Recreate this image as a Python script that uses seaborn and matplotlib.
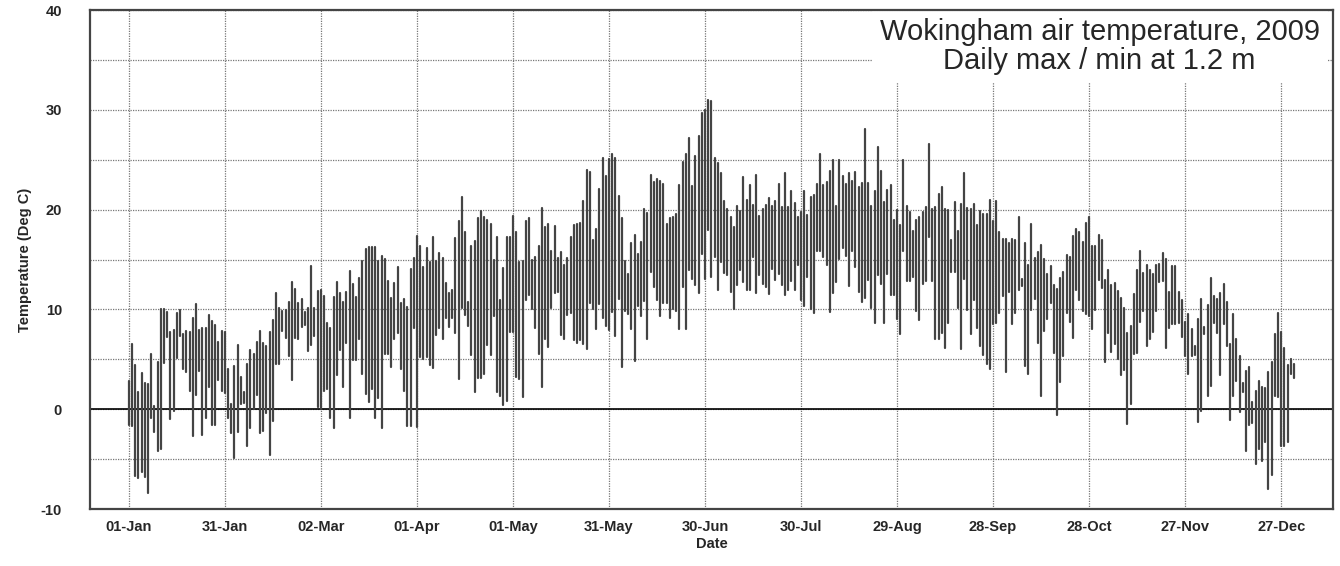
import numpy as np
import pandas as pd
import matplotlib
matplotlib.use("Agg")
import matplotlib.pyplot as plt
import matplotlib.dates as mdates
import matplotlib.ticker as mticker
import seaborn as sns

# ─── Data: daily max / min air temperature (deg C), 1 Jan – 31 Dec 2009 ─────
T_MAX = [
    2.8, 6.5, 4.4, 1.7, 3.6, 2.6, 2.5, 5.5, 0.3, 4.7,
    10.0, 10.0, 9.7, 7.7, 7.9, 9.6, 9.9, 7.5, 7.8, 7.7,
    9.1, 10.5, 7.9, 8.1, 8.1, 9.4, 8.8, 8.4, 6.7, 7.8,
    7.7, 4.0, 0.5, 4.3, 6.4, 3.2, 1.7, 4.5, 5.9, 5.5,
    6.7, 7.8, 6.6, 6.3, 7.7, 8.9, 11.7, 10.1, 9.8, 9.9,
    10.7, 12.8, 12.1, 10.6, 11.1, 9.7, 10.1, 14.4, 10.1, 11.9,
    12.0, 11.4, 8.6, 8.1, 11.3, 12.8, 11.7, 10.7, 11.8, 13.9,
    12.6, 11.3, 13.2, 14.9, 16.1, 16.3, 16.3, 16.3, 14.9, 15.4,
    15.1, 12.9, 11.2, 12.7, 14.3, 10.6, 11.1, 10.2, 14.1, 15.2,
    17.4, 16.4, 14.3, 16.2, 14.8, 17.3, 14.9, 15.7, 15.2, 12.7,
    11.7, 12.0, 17.2, 18.9, 21.3, 17.8, 10.7, 16.4, 16.9, 19.2,
    19.9, 19.3, 19.0, 18.6, 15.0, 17.3, 10.9, 14.2, 17.3, 17.3,
    19.4, 17.8, 14.8, 14.9, 18.9, 19.2, 15.0, 15.3, 16.4, 20.2,
    18.3, 18.6, 15.9, 18.4, 15.2, 15.8, 14.5, 15.2, 17.3, 18.5,
    18.6, 18.7, 20.9, 24.0, 23.8, 17.0, 18.1, 22.1, 25.2, 23.4,
    25.1, 25.6, 25.2, 21.4, 19.2, 14.9, 13.6, 16.7, 17.5, 15.6,
    16.8, 20.1, 19.7, 23.5, 22.8, 23.1, 22.9, 22.6, 18.6, 19.2,
    19.3, 19.6, 22.5, 24.8, 25.6, 27.2, 22.4, 25.4, 27.4, 29.7,
    30.0, 31.0, 30.9, 25.2, 24.7, 23.7, 20.9, 20.1, 19.3, 18.3,
    20.4, 19.9, 23.3, 21.0, 22.5, 20.5, 23.5, 19.4, 20.1, 20.5,
    21.2, 20.4, 20.9, 22.6, 20.3, 23.7, 20.3, 21.9, 20.7, 19.3,
    19.8, 21.9, 19.5, 21.3, 21.5, 22.6, 25.6, 22.5, 22.8, 23.9,
    25.0, 20.4, 25.0, 23.4, 22.6, 23.7, 22.9, 23.8, 22.3, 22.7,
    28.1, 22.7, 20.4, 21.9, 26.3, 23.9, 20.8, 22.0, 22.5, 19.0,
    20.0, 18.5, 25.0, 20.4, 19.8, 17.9, 19.0, 19.3, 19.8, 20.3,
    26.6, 20.1, 20.3, 21.6, 22.3, 20.1, 20.0, 17.0, 20.8, 17.9,
    20.6, 23.7, 20.2, 20.1, 20.6, 18.5, 19.9, 19.6, 19.6, 21.0,
    18.9, 20.9, 17.8, 17.1, 17.1, 16.7, 17.1, 17.0, 19.3, 13.1,
    16.7, 14.5, 18.6, 15.2, 15.8, 16.5, 15.1, 13.6, 14.4, 12.5,
    12.1, 13.2, 13.8, 15.5, 15.3, 17.4, 18.1, 17.8, 16.8, 18.7,
    19.3, 16.4, 16.4, 17.5, 17.0, 13.0, 14.0, 12.5, 12.7, 11.9,
    11.2, 10.1, 7.6, 8.3, 11.6, 14.0, 15.9, 13.7, 14.5, 14.0,
    13.6, 14.5, 14.6, 15.7, 15.1, 11.8, 14.4, 14.4, 11.8, 11.0,
    8.7, 9.5, 8.0, 6.3, 9.0, 11.1, 8.2, 10.4, 13.2, 11.4,
    11.1, 11.7, 12.6, 10.7, 6.5, 9.5, 7.0, 5.3, 2.6, 3.8,
    4.2, 0.7, 1.8, 2.8, 2.2, 2.1, 3.7, 4.7, 7.5, 9.6,
    7.7, 6.1, 4.4, 5.0, 4.5,
]
T_MIN = [
    -1.6, -1.7, -6.7, -6.9, -6.3, -6.8, -8.4, -0.9, -2.3, -4.2,
    -4.0, 4.6, 7.2, -1.0, -0.2, 5.1, 7.3, 4.0, 3.7, 1.8,
    -2.7, 1.4, 3.8, -2.6, -0.9, 2.2, -1.6, -1.6, 2.9, 1.8,
    1.6, -0.9, -2.4, -4.9, -2.3, 0.5, 0.6, -3.7, -1.9, 0.0,
    1.4, -2.4, -2.2, -0.4, -4.6, -1.2, 4.5, 4.5, 7.8, 7.1,
    5.3, 2.9, 7.1, 7.0, 8.2, 8.4, 5.8, 6.4, 7.3, 0.2,
    0.0, 1.8, 2.0, -0.9, -1.9, 3.4, 5.9, 2.2, 6.6, -0.9,
    4.9, 4.9, 7.0, 3.5, 1.5, 0.7, 2.0, -0.9, 1.1, -1.9,
    5.5, 5.5, 4.2, 7.0, 7.6, 4.0, 1.8, -1.7, -1.7, 8.1,
    -1.8, 5.2, 5.0, 5.2, 4.4, 4.1, 7.4, 8.1, 7.0, 9.1,
    8.2, 9.1, 7.6, 3.0, 10.1, 9.4, 8.3, 5.4, 1.7, 3.1,
    3.1, 3.5, 6.4, 5.4, 9.3, 1.7, 1.3, 0.4, 0.8, 7.7,
    7.7, 3.2, 3.0, 1.2, 10.9, 11.5, 10.0, 8.1, 5.5, 2.2,
    7.0, 6.2, 10.1, 11.7, 11.8, 7.4, 7.0, 9.4, 9.6, 6.9,
    6.6, 6.9, 6.5, 6.0, 10.6, 10.0, 8.0, 10.5, 9.1, 8.3,
    7.9, 9.7, 7.3, 11.1, 4.2, 9.8, 9.5, 8.0, 4.8, 10.3,
    9.3, 10.8, 7.0, 13.8, 12.3, 11.0, 9.3, 10.6, 10.6, 9.1,
    10.0, 9.8, 8.0, 12.3, 8.0, 14.0, 13.1, 12.5, 11.7, 15.6,
    13.1, 18.0, 13.3, 15.3, 12.0, 14.8, 13.7, 13.5, 11.8, 10.0,
    12.5, 14.0, 12.8, 12.0, 12.0, 15.3, 11.7, 13.5, 12.6, 12.3,
    11.6, 14.1, 13.0, 13.6, 12.5, 11.5, 12.0, 12.9, 12.0, 14.5,
    11.0, 10.3, 13.3, 10.0, 9.6, 15.9, 15.9, 15.3, 14.5, 9.7,
    11.7, 12.8, 15.1, 16.2, 15.4, 12.4, 15.9, 14.3, 11.8, 10.7,
    11.2, 13.0, 10.1, 8.6, 13.5, 12.6, 8.6, 13.6, 11.5, 11.5,
    9.0, 7.5, 15.9, 12.9, 12.9, 13.3, 9.8, 8.9, 12.6, 12.9,
    17.3, 12.9, 7.0, 7.0, 7.6, 6.1, 8.6, 13.8, 13.8, 10.1,
    6.0, 13.1, 9.9, 7.5, 10.9, 8.1, 6.3, 5.4, 4.5, 4.0,
    8.5, 8.6, 9.6, 11.4, 3.7, 11.8, 8.5, 9.6, 12.0, 12.4,
    4.3, 3.5, 9.9, 11.1, 6.6, 1.3, 7.8, 9.0, 10.6, 5.6,
    -0.6, 2.7, 5.3, 9.6, 8.7, 7.1, 12.0, 11.0, 9.8, 9.5,
    9.3, 8.0, 9.9, 13.0, 12.2, 4.7, 7.6, 5.7, 6.5, 5.0,
    3.4, 3.9, -1.5, 0.5, 5.5, 5.6, 8.7, 9.8, 6.3, 7.0,
    7.7, 9.8, 12.8, 12.9, 6.1, 8.1, 8.5, 8.5, 8.6, 7.2,
    5.3, 3.5, 5.3, 5.4, -1.3, -0.2, 7.5, 1.3, 2.3, 8.6,
    7.6, 3.4, 8.5, 6.3, -1.1, 1.3, 2.8, -0.3, 1.7, -4.2,
    -1.6, -1.4, -5.5, -4.0, -5.2, -3.3, -8.0, -6.6, 1.3, 1.2,
    -3.7, -3.7, -3.3, 3.5, 3.1,
]
TICK_DATES = ["2009-01-01", "2009-01-31", "2009-03-02", "2009-04-01", "2009-05-01",
              "2009-05-31", "2009-06-30", "2009-07-30", "2009-08-29", "2009-09-28",
              "2009-10-28", "2009-11-27", "2009-12-27"]
Y_TICKS = [-10, 0, 10, 20, 30, 40]

# ─── Long-form table: one vertical segment (max → min) per day ───────────────
dates = pd.date_range("2009-01-01", periods=len(T_MAX), freq="D")
df = pd.DataFrame({
    "Date": list(dates) + list(dates),
    "Temp": T_MAX + T_MIN,
    "Day":  list(range(len(dates))) * 2,
})

sns.set_style("white")
plt.rcParams["font.family"] = ["Liberation Sans", "DejaVu Sans"]
plt.rcParams["axes.unicode_minus"] = False

fig = plt.figure(figsize=(13.4, 5.66), dpi=100)
ax = fig.add_axes([0.067, 0.1007, 0.928, 0.8813])

sns.lineplot(data=df, x="Date", y="Temp", units="Day", estimator=None,
             color="#444444", linewidth=1.6, ax=ax, legend=False, zorder=3)

# grid: dotted, every 5 deg and every 30 days
ax.set_ylim(-10, 40)
ax.set_yticks(Y_TICKS)
ax.yaxis.set_minor_locator(mticker.MultipleLocator(5))
ax.set_xticks(pd.to_datetime(TICK_DATES))
ax.xaxis.set_major_formatter(mdates.DateFormatter("%d-%b"))
ax.set_xlim(dates[0] - pd.Timedelta(days=12.2), dates[0] + pd.Timedelta(days=376.3))
ax.grid(which="both", color="#777777", linestyle=(0, (1, 1)), linewidth=0.9, zorder=1)
ax.axhline(0, color="black", linewidth=1.2, zorder=2)

for s in ax.spines.values():
    s.set_visible(True)
    s.set_color("#444444")
    s.set_linewidth(1.6)
    s.set_zorder(6)
ax.tick_params(which="both", length=0)
ax.tick_params(axis="x", pad=8)
ax.tick_params(axis="y", pad=20)
for lab in ax.get_xticklabels() + ax.get_yticklabels():
    lab.set_fontweight("bold")
    lab.set_fontsize(10.5)

ax.set_xlabel("Date", fontsize=10.5, fontweight="bold", labelpad=2)
ax.set_ylabel("Temperature (Deg C)", fontsize=10.5, fontweight="bold", labelpad=6)

ax.text(0.812, 0.927, "Wokingham air temperature, 2009\nDaily max / min at 1.2 m",
        transform=ax.transAxes, ha="center", va="center", multialignment="center",
        fontsize=21, linespacing=1.02, zorder=5,
        bbox=dict(facecolor="white", edgecolor="none", pad=5))

fig.savefig("out.png", dpi=100, facecolor="white")
